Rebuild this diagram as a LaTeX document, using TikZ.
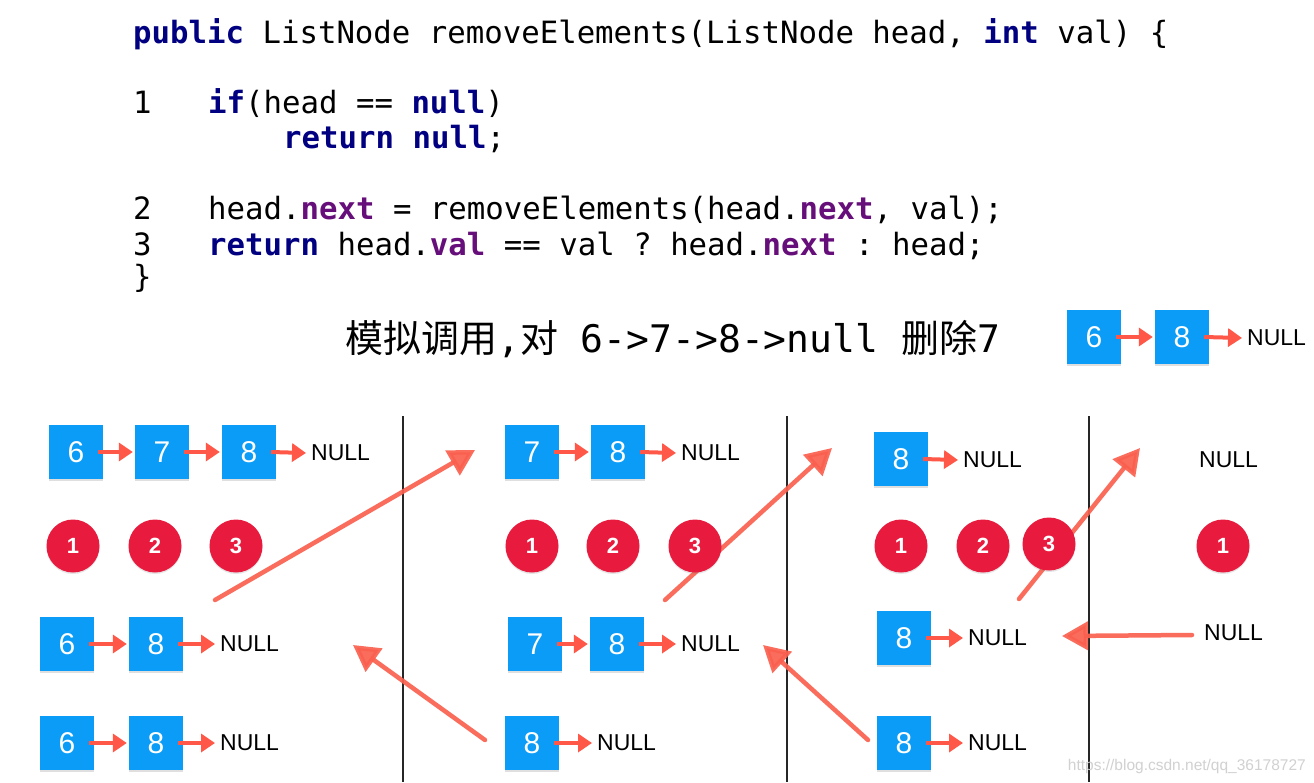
\documentclass[tikz,border=0pt]{standalone}
\usepackage{fontspec}
\setmonofont{DejaVu Sans Mono}
\newfontfamily\hv{Liberation Sans}
\newfontfamily\cjk{Noto Sans CJK SC}
\usetikzlibrary{arrows.meta,shadows}
\definecolor{boxblue}{RGB}{10,156,246}
\definecolor{arrred}{RGB}{255,88,72}
\definecolor{handred}{RGB}{250,96,78}
\definecolor{circred}{RGB}{232,26,62}
\definecolor{kwblue}{RGB}{0,0,128}
\definecolor{fldpurple}{RGB}{102,14,122}
\newcommand{\kw}[1]{{\color{kwblue}\bfseries #1}}
\newcommand{\fld}[1]{{\color{fldpurple}\bfseries #1}}
\begin{document}
\begin{tikzpicture}[x=1pt,y=-1pt,
  codeline/.style={anchor=base west,inner sep=0,font=\ttfamily\fontsize{30.7}{36}\selectfont},
  lbox/.style={fill=boxblue,minimum size=54pt,inner sep=0,text=white,
    font=\hv\fontsize{30}{30}\selectfont,
    drop shadow={shadow xshift=0pt,shadow yshift=-1.5pt,opacity=0.25}},
  nullt/.style={anchor=west,inner sep=0,font=\hv\fontsize{23}{23}\selectfont},
  circ/.style={circle,fill=circred,minimum size=53pt,inner sep=0,text=white,
    font=\hv\bfseries\fontsize{22}{22}\selectfont,
    drop shadow={shadow xshift=0pt,shadow yshift=-1.5pt,opacity=0.2}},
  lnk/.style={draw=arrred,line width=4pt,-{Triangle[length=14pt,width=18pt]}},
  hand/.style={draw=handred,line width=4.5pt,line cap=round,opacity=0.92,
    -{Triangle[length=26pt,width=28pt]}},
  divider/.style={draw=black!85,line width=1.4pt}]
\useasboundingbox (0,0) rectangle (1314,782);
\fill[white] (0,0) rectangle (1314,782);

% ---- code ----
\node[codeline] (c0) at (133,43) {\kw{public} ListNode removeElements(ListNode head, \kw{int} val) \{};
\node[codeline] (n1) at (133,113) {1};
\node[codeline] (c1) at (208,113) {\kw{if}(head == \kw{null})};
\node[codeline] (c1b) at (283,148) {\kw{return} \kw{null};};
\node[codeline] (n2) at (133,219) {2};
\node[codeline] (c2) at (208,219) {head.\fld{next} = removeElements(head.\fld{next}, val);};
\node[codeline] (n3) at (133,255) {3};
\node[codeline] (c3) at (208,255) {\kw{return} head.\fld{val} == val ? head.\fld{next} : head;};
\node[codeline] (c4) at (133,287) {\}};

% ---- title ----
\node[anchor=base west,inner sep=0,font=\fontsize{38}{40}\selectfont] (title) at (345,352)
  {{\cjk 模拟调用}{\ttfamily ,}{\cjk 对}{\ttfamily\ 6->7->8->null\ }{\cjk 删除}{\ttfamily 7}};

% ---- top-right result ----
\node[lbox] (r6) at (1094,337) {6};
\node[lbox] (r8) at (1182,337) {8};
\node[nullt] (rN) at (1247,338) {NULL};
\draw[lnk] ([xshift=-5pt]r6.east) -- ([xshift=-2pt]r8.west);
\draw[lnk] ([xshift=-5pt]r8.east) -- ([xshift=-5pt]rN.west);

% ---- dividers ----
\coordinate (d1t) at (403,416); \coordinate (d1b) at (403,782);
\coordinate (d2t) at (787,416); \coordinate (d2b) at (787,782);
\coordinate (d3t) at (1089,416); \coordinate (d3b) at (1089,782);
\draw[divider] (d1t) -- (d1b);
\draw[divider] (d2t) -- (d2b);
\draw[divider] (d3t) -- (d3b);

% ---- column 1 ----
\node[lbox] (a6) at (76,452) {6};
\node[lbox] (a7) at (162,452) {7};
\node[lbox] (a8) at (249,452) {8};
\node[nullt] (aN) at (311,453) {NULL};
\draw[lnk] ([xshift=-5pt]a6.east) -- ([xshift=-2pt]a7.west);
\draw[lnk] ([xshift=-5pt]a7.east) -- ([xshift=-2pt]a8.west);
\draw[lnk] ([xshift=-5pt]a8.east) -- ([xshift=-5pt]aN.west);

\node[lbox] (b6) at (67,644) {6};
\node[lbox] (b8) at (156,644) {8};
\node[nullt] (bN) at (220,644) {NULL};
\draw[lnk] ([xshift=-5pt]b6.east) -- ([xshift=-2pt]b8.west);
\draw[lnk] ([xshift=-5pt]b8.east) -- ([xshift=-5pt]bN.west);

\node[lbox] (e6) at (67,743) {6};
\node[lbox] (e8) at (156,743) {8};
\node[nullt] (eN) at (220,743) {NULL};
\draw[lnk] ([xshift=-5pt]e6.east) -- ([xshift=-2pt]e8.west);
\draw[lnk] ([xshift=-5pt]e8.east) -- ([xshift=-5pt]eN.west);

% ---- column 2 ----
\node[lbox] (f7) at (532,452) {7};
\node[lbox] (f8) at (618,452) {8};
\node[nullt] (fN) at (681,453) {NULL};
\draw[lnk] ([xshift=-5pt]f7.east) -- ([xshift=-2pt]f8.west);
\draw[lnk] ([xshift=-5pt]f8.east) -- ([xshift=-5pt]fN.west);

\node[lbox] (g7) at (535,644) {7};
\node[lbox] (g8) at (617,644) {8};
\node[nullt] (gN) at (681,644) {NULL};
\draw[lnk] ([xshift=-5pt]g7.east) -- ([xshift=-2pt]g8.west);
\draw[lnk] ([xshift=-5pt]g8.east) -- ([xshift=-5pt]gN.west);

\node[lbox] (h8) at (532,743) {8};
\node[nullt] (hN) at (597,743) {NULL};
\draw[lnk] ([xshift=-5pt]h8.east) -- ([xshift=-5pt]hN.west);

% ---- column 3 ----
\node[lbox] (i8) at (901,459) {8};
\node[nullt] (iN) at (963,460) {NULL};
\draw[lnk] ([xshift=-5pt]i8.east) -- ([xshift=-5pt]iN.west);

\node[lbox] (j8) at (904,638) {8};
\node[nullt] (jN) at (968,638) {NULL};
\draw[lnk] ([xshift=-5pt]j8.east) -- ([xshift=-5pt]jN.west);

\node[lbox] (k8) at (904,743) {8};
\node[nullt] (kN) at (968,743) {NULL};
\draw[lnk] ([xshift=-5pt]k8.east) -- ([xshift=-5pt]kN.west);

% ---- column 4 ----
\node[nullt] (lN) at (1199,460) {NULL};
\node[nullt] (mN) at (1204,633) {NULL};

% ---- hand-drawn arrows ----
\coordinate (h1s) at (215,600); \coordinate (h1e) at (475,450);
\coordinate (h2s) at (485,740); \coordinate (h2e) at (353,645);
\coordinate (h3s) at (665,600); \coordinate (h3e) at (832,448);
\coordinate (h4s) at (868,740); \coordinate (h4e) at (763,645);
\coordinate (h5s) at (1019,599); \coordinate (h5e) at (1140,448);
\coordinate (h6s) at (1192,635); \coordinate (h6e) at (1062,636);
\draw[hand] (h1s) -- (h1e);
\draw[hand] (h2s) -- (h2e);
\draw[hand] (h3s) -- (h3e);
\draw[hand] (h4s) -- (h4e);
\draw[hand] (h5s) -- (h5e);
\draw[hand] (h6s) -- (h6e);

% ---- step circles ----
\node[circ] (p1) at (73,546) {1};
\node[circ] (p2) at (155,546) {2};
\node[circ] (p3) at (236,546) {3};
\node[circ] (q1) at (532,546) {1};
\node[circ] (q2) at (613,546) {2};
\node[circ] (q3) at (695,546) {3};
\node[circ] (s1) at (901,546) {1};
\node[circ] (s2) at (983,546) {2};
\node[circ] (s3) at (1049,544) {3};
\node[circ] (t1) at (1223,546) {1};

% ---- watermark ----
\node[anchor=base east,inner sep=0,text=black!18,font=\hv\fontsize{15.5}{16}\selectfont] (wm) at (1306,770) {https://blog.csdn.net/qq\_36178727};
\end{tikzpicture}
\end{document}
